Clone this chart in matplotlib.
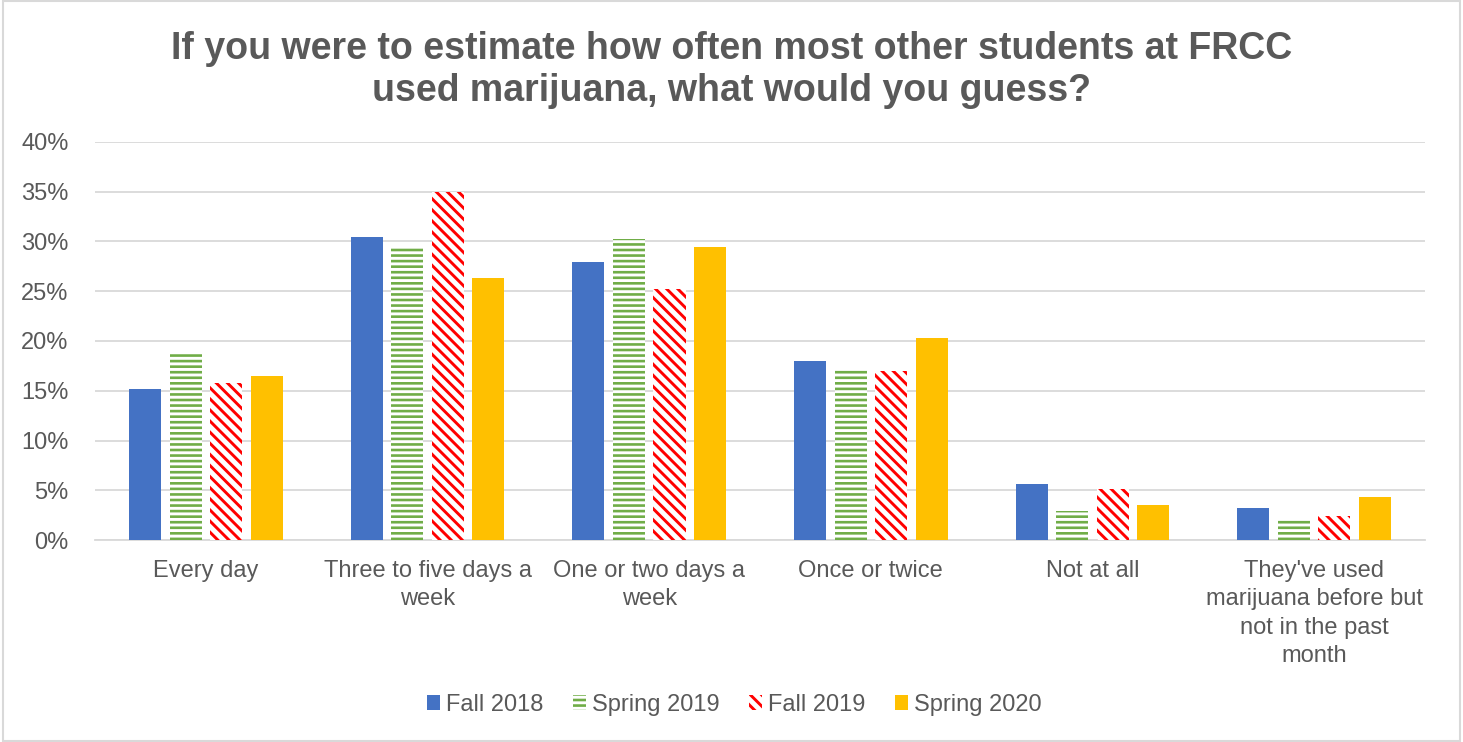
from matplotlib import pyplot as plt
from matplotlib.patches import Rectangle, Patch
import numpy as np

categories = ['Every day', 'Three to five days a\nweek', 'One or two days a\nweek',
              'Once or twice', 'Not at all',
              "They've used\nmarijuana before but\nnot in the past\nmonth"]
series = ['Fall 2018', 'Spring 2019', 'Fall 2019', 'Spring 2020']
fall_2018 = [15.2, 30.4, 27.9, 18.0, 5.6, 3.2]
spring_2019 = [18.8, 29.3, 30.2, 17.1, 2.9, 2.1]
fall_2019 = [15.8, 35.0, 25.2, 17.0, 5.1, 2.4]
spring_2020 = [16.5, 26.3, 29.4, 20.3, 3.5, 4.3]

plt.rcParams['font.family'] = ['Liberation Sans', 'DejaVu Sans']
plt.rcParams['hatch.linewidth'] = 2.1

text_col = '#595959'
grid_col = '#D9D9D9'

# face, edge (hatch colour), hatch
styles = [
    ('#4472C4', '#4472C4', None),
    ('#70AD47', 'white', '---'),
    ('white', '#FF0000', '\\\\\\'),
    ('#FFC000', '#FFC000', None),
]

fig = plt.figure(figsize=(14.63, 7.42), dpi=100)
ax = fig.add_axes([0.065, 0.272, 0.909, 0.537])

x = np.arange(len(categories))
pitch = 0.183
width = 0.145
handles = []
for i, (name, vals) in enumerate(zip(series, [fall_2018, spring_2019, fall_2019, spring_2020])):
    face, edge, hatch = styles[i]
    ax.bar(x + (i - 1.5) * pitch, vals, width, color=face, edgecolor=edge,
           hatch=hatch, linewidth=0, zorder=3)
    handles.append(Patch(facecolor=face, edgecolor=edge, hatch=hatch, linewidth=0, label=name))

ax.set_xlim(-0.5, len(categories) - 0.5)
ax.set_ylim(0, 40)
ax.set_yticks(range(0, 41, 5))
ax.set_yticklabels([f'{v}%' for v in range(0, 41, 5)])
ax.set_xticks(x)
ax.set_xticklabels(categories, linespacing=1.38)
ax.tick_params(axis='both', length=0, labelsize=17, colors=text_col)
ax.tick_params(axis='x', pad=14)
ax.tick_params(axis='y', pad=19)
ax.grid(axis='y', color=grid_col, linewidth=1.3, zorder=0)
for s in ['top', 'right', 'left']:
    ax.spines[s].set_visible(False)
ax.spines['bottom'].set_color(grid_col)
ax.spines['bottom'].set_linewidth(1.3)

fig.text(0.5, 0.958, 'If you were to estimate how often most other students at FRCC\nused marijuana, what would you guess?',
         ha='center', va='top', fontsize=27, fontweight='bold', color=text_col, linespacing=1.2)

fig.legend(handles=handles, loc='center', bbox_to_anchor=(0.502, 0.05), ncol=4, frameon=False,
           fontsize=17, labelcolor=text_col, handlelength=0.55, handleheight=0.6,
           handletextpad=0.25, columnspacing=1.25)

fig.patches.append(Rectangle((0.002, 0.002), 0.996, 0.996, transform=fig.transFigure,
                             fill=False, edgecolor=grid_col, linewidth=1.5))

fig.savefig('out.png', dpi=100)
